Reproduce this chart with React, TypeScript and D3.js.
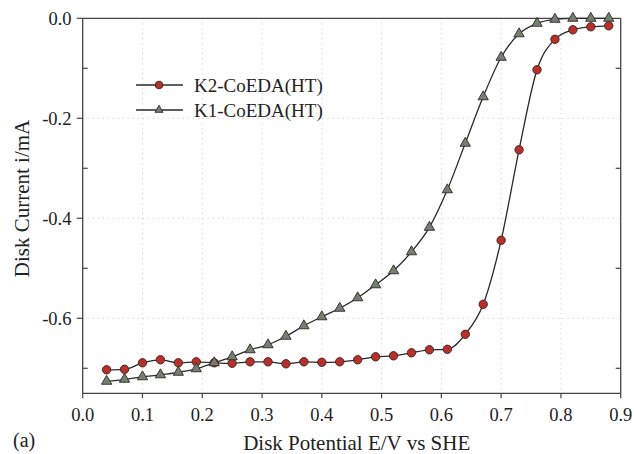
import React from "react";
import * as d3 from "d3";

// Disk potential (V vs SHE) sampled every 30 mV
const potentials = [
  0.04, 0.07, 0.1, 0.13, 0.16, 0.19, 0.22, 0.25, 0.28, 0.31, 0.34, 0.37, 0.4,
  0.43, 0.46, 0.49, 0.52, 0.55, 0.58, 0.61, 0.64, 0.67, 0.7, 0.73, 0.76, 0.79,
  0.82, 0.85, 0.88,
];

// Disk current (mA) for K2-CoEDA(HT)
const k2Current = [
  -0.703, -0.702, -0.689, -0.683, -0.689, -0.687, -0.689, -0.69, -0.687,
  -0.687, -0.691, -0.687, -0.688, -0.687, -0.683, -0.677, -0.675, -0.669,
  -0.663, -0.662, -0.632, -0.572, -0.444, -0.263, -0.103, -0.042, -0.023,
  -0.017, -0.015,
];

// Disk current (mA) for K1-CoEDA(HT)
const k1Current = [
  -0.726, -0.722, -0.717, -0.713, -0.708, -0.701, -0.689, -0.677, -0.663,
  -0.653, -0.636, -0.615, -0.597, -0.58, -0.559, -0.533, -0.505, -0.467,
  -0.418, -0.343, -0.25, -0.157, -0.078, -0.031, -0.01, -0.002, 0, 0, 0,
];

const seriesNames = ["K2-CoEDA(HT)", "K1-CoEDA(HT)"];
const xTicks = [0, 0.1, 0.2, 0.3, 0.4, 0.5, 0.6, 0.7, 0.8, 0.9];
const yMajorTicks = [0, -0.2, -0.4, -0.6];
const yMinorTicks = [-0.1, -0.3, -0.5, -0.7];

const W = 634;
const H = 454;
const FONT = "'Liberation Serif', 'Times New Roman', serif";

export default function App() {
  const left = 82.7;
  const right = 620.7;
  const top = 18.3;
  const bottom = 393.3;

  const x = d3.scaleLinear().domain([0, 0.9]).range([left, right]);
  const y = d3.scaleLinear().domain([-0.75, 0]).range([bottom, top]);

  const line = d3
    .line<number>()
    .x((_, i) => x(potentials[i]))
    .y((d) => y(d))
    .curve(d3.curveMonotoneX);

  const triangle = d3.symbol().type(d3.symbolTriangle).size(46)() as string;
  const legendTriangle = d3.symbol().type(d3.symbolTriangle).size(28)() as string;

  const lineColor = "#2a2a2a";
  const circleFill = "#b8302b";
  const triFill = "#75806f";

  const legendRows = [
    { name: seriesNames[0], y: 85, kind: "circle" },
    { name: seriesNames[1], y: 110, kind: "triangle" },
  ];

  return (
    <svg
      width={W}
      height={H}
      style={{ position: "absolute", left: 0, top: 0, background: "#fff" }}
      fontFamily={FONT}
    >
      <rect x={0} y={0} width={W} height={H} fill="#fff" />

      {/* dotted grid */}
      <g stroke="#c8c8c8" strokeWidth={1} strokeDasharray="1,4">
        {xTicks
          .filter((t) => t > 0 && t < 0.9)
          .map((t) => (
            <line key={`gx${t}`} x1={x(t)} x2={x(t)} y1={top} y2={bottom} />
          ))}
        {yMajorTicks
          .filter((t) => t < 0)
          .map((t) => (
            <line key={`gy${t}`} x1={left} x2={right} y1={y(t)} y2={y(t)} />
          ))}
      </g>

      {/* frame */}
      <g stroke="#444" strokeWidth={1.3} fill="none">
        <line x1={left} x2={right} y1={top} y2={top} />
        <line x1={left} x2={right} y1={bottom} y2={bottom} />
        <line x1={left} x2={left} y1={top} y2={bottom} />
        <line x1={right} x2={right} y1={top} y2={bottom} />
      </g>

      {/* x axis ticks and labels */}
      <g stroke="#444" strokeWidth={1.2}>
        {xTicks.map((t) => (
          <line key={`xt${t}`} x1={x(t)} x2={x(t)} y1={bottom} y2={bottom + 5} />
        ))}
      </g>
      <g fontSize={18.5} fill="#222" textAnchor="middle">
        {xTicks.map((t) => (
          <text key={`xl${t}`} x={x(t)} y={420.5}>
            {d3.format(".1f")(t)}
          </text>
        ))}
      </g>

      {/* y axis ticks and labels */}
      <g stroke="#444" strokeWidth={1.2}>
        {yMajorTicks.map((t) => (
          <line key={`yt${t}`} x1={left - 6} x2={left} y1={y(t)} y2={y(t)} />
        ))}
        {yMinorTicks.map((t) => (
          <g key={`ym${t}`}>
            <line x1={left} x2={left + 5} y1={y(t)} y2={y(t)} />
            <line x1={right - 5} x2={right} y1={y(t)} y2={y(t)} />
          </g>
        ))}
      </g>
      <g fontSize={18.5} fill="#222" textAnchor="end">
        {yMajorTicks.map((t) => (
          <text key={`yl${t}`} x={71.5} y={y(t)} dy="0.35em">
            {d3.format(".1f")(t).replace("−", "-")}
          </text>
        ))}
      </g>

      {/* axis titles */}
      <text x={356.7} y={450} fontSize={21} textAnchor="middle" fill="#222">
        Disk Potential E/V vs SHE
      </text>
      <text
        transform={`translate(29,198.5) rotate(-90)`}
        fontSize={21}
        textAnchor="middle"
        fill="#222"
      >
        Disk Current i/mA
      </text>
      <text x={13} y={447} fontSize={20} fill="#222">
        (a)
      </text>

      {/* curves */}
      <path d={line(k2Current) ?? ""} fill="none" stroke={lineColor} strokeWidth={1.3} />
      <path d={line(k1Current) ?? ""} fill="none" stroke={lineColor} strokeWidth={1.3} />

      {k2Current.map((v, i) => (
        <circle
          key={`c${i}`}
          cx={x(potentials[i])}
          cy={y(v)}
          r={4.2}
          fill={circleFill}
          stroke="#3a2020"
          strokeWidth={0.9}
        />
      ))}
      {k1Current.map((v, i) => (
        <path
          key={`t${i}`}
          d={triangle}
          transform={`translate(${x(potentials[i])},${y(v)})`}
          fill={triFill}
          stroke="#2a2a2a"
          strokeWidth={0.9}
        />
      ))}

      {/* legend */}
      {legendRows.map((r) => (
        <g key={r.name}>
          <line x1={136} x2={183} y1={r.y} y2={r.y} stroke={lineColor} strokeWidth={1.3} />
          {r.kind === "circle" ? (
            <circle cx={159} cy={r.y} r={3.8} fill={circleFill} stroke="#3a2020" strokeWidth={0.9} />
          ) : (
            <path
              d={legendTriangle}
              transform={`translate(159,${r.y})`}
              fill={triFill}
              stroke="#2a2a2a"
              strokeWidth={0.9}
            />
          )}
          <text x={194} y={r.y} dy="0.35em" fontSize={19} fill="#222">
            {r.name}
          </text>
        </g>
      ))}
    </svg>
  );
}
